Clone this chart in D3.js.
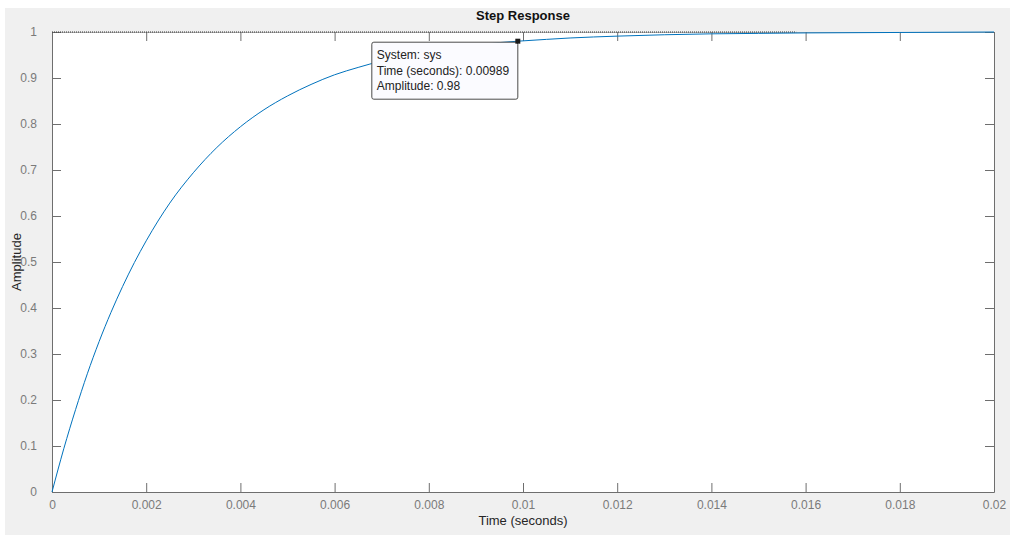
<!DOCTYPE html>
<html>
<head>
<meta charset="utf-8">
<script src="https://cdn.jsdelivr.net/npm/d3@7"></script>
<style>
  body { margin: 0; background: #fff; }
  svg text { font-family: "Liberation Sans", Arial, Helvetica, sans-serif; }
</style>
</head>
<body>
<svg id="chart" width="1010" height="535"></svg>
<script>
// step response samples
var time_s = [0, 0.00025, 0.0005, 0.00075, 0.001, 0.00125, 0.0015, 0.00175, 0.002,
    0.0025, 0.003, 0.0035, 0.004, 0.0045, 0.005, 0.0055, 0.006, 0.0065, 0.007,
    0.0075, 0.008, 0.0085, 0.009, 0.0095, 0.00989, 0.0105, 0.011, 0.012, 0.013,
    0.014, 0.015, 0.016, 0.018, 0.02];
var amplitude = [0, 0.094, 0.179, 0.257, 0.327, 0.390, 0.447, 0.499, 0.546,
    0.628, 0.694, 0.749, 0.794, 0.831, 0.861, 0.886, 0.907, 0.923, 0.937,
    0.948, 0.958, 0.965, 0.971, 0.977, 0.98, 0.984, 0.987, 0.991, 0.994,
    0.996, 0.997, 0.998, 0.999, 1.0];
var x_ticks = [0, 0.002, 0.004, 0.006, 0.008, 0.01, 0.012, 0.014, 0.016, 0.018, 0.02];
var y_ticks = [0, 0.1, 0.2, 0.3, 0.4, 0.5, 0.6, 0.7, 0.8, 0.9, 1];
var steady_state = 1;
var steady_end = 0.0158;
var tip = { "System": "sys", "Time": 0.00989, "Amplitude": 0.98 };

const LEFT = 52, RIGHT = 994, TOP = 32, BOTTOM = 492;
const TICK = 9;
const AXIS_COLOR = "#6e6e6e";
const LABEL_COLOR = "#7a7a7a";

var svg = d3.select("svg#chart");

// figure background
svg.append("rect")
    .attr("x", 5).attr("y", 8)
    .attr("width", 1005).attr("height", 527)
    .attr("fill", "#f0f0f0");

svg.append("rect")
    .attr("x", LEFT).attr("y", TOP)
    .attr("width", RIGHT - LEFT).attr("height", BOTTOM - TOP)
    .attr("fill", "white");

var x = d3.scaleLinear().domain([0, 0.02]).range([LEFT, RIGHT]);
var y = d3.scaleLinear().domain([0, 1]).range([BOTTOM, TOP]);

var fmt = d => d3.format("~g")(+d.toFixed(4));

// bottom axis with labels
var bottom = svg.append("g")
    .attr("transform", "translate(0," + BOTTOM + ")")
    .call(d3.axisBottom(x).tickValues(x_ticks).tickFormat(fmt).tickSizeInner(-TICK).tickSizeOuter(0).tickPadding(8));
// top axis, ticks only
var top_axis = svg.append("g")
    .attr("transform", "translate(0," + TOP + ")")
    .call(d3.axisTop(x).tickValues(x_ticks).tickFormat("").tickSizeInner(-TICK).tickSizeOuter(0));
// left axis with labels
var left = svg.append("g")
    .attr("transform", "translate(" + LEFT + ",0)")
    .call(d3.axisLeft(y).tickValues(y_ticks).tickFormat(fmt).tickSizeInner(-TICK).tickSizeOuter(0).tickPadding(15));
// right axis, ticks only
var right = svg.append("g")
    .attr("transform", "translate(" + RIGHT + ",0)")
    .call(d3.axisRight(y).tickValues(y_ticks).tickFormat("").tickSizeInner(-TICK).tickSizeOuter(0));

[bottom, top_axis, left, right].forEach(function(g) {
    g.select(".domain").attr("stroke", AXIS_COLOR);
    g.selectAll(".tick line").attr("stroke", AXIS_COLOR);
    g.selectAll(".tick text")
        .attr("fill", LABEL_COLOR)
        .style("font-size", "12px");
});
bottom.selectAll(".tick text").attr("dy", "0.71em");

top_axis.select(".domain").attr("stroke", "#b0b0b0");

// steady-state line
svg.append("line")
    .attr("x1", x(0)).attr("x2", x(steady_end))
    .attr("y1", y(steady_state)).attr("y2", y(steady_state))
    .attr("stroke", "#333")
    .attr("stroke-width", 1)
    .attr("stroke-dasharray", "1,1");

// response curve
var line = d3.line()
    .x((d, i) => x(time_s[i]))
    .y(d => y(d))
    .curve(d3.curveMonotoneX);

svg.append("path")
    .datum(amplitude)
    .attr("d", line)
    .attr("fill", "none")
    .attr("stroke", "#0072bd")
    .attr("stroke-width", 1);

// data tip
var box_w = 146, box_h = 57;
var box_x = x(tip.Time) - box_w, box_y = y(tip.Amplitude) + 1;
var tip_g = svg.append("g");
tip_g.append("rect")
    .attr("x", box_x).attr("y", box_y)
    .attr("width", box_w).attr("height", box_h)
    .attr("rx", 2).attr("ry", 2)
    .attr("fill", "#fbfbff")
    .attr("stroke", "#4a4a4a")
    .attr("stroke-width", 1);
var tip_lines = ["System: " + tip.System,
    "Time (seconds): " + tip.Time,
    "Amplitude: " + tip.Amplitude];
tip_g.selectAll("text")
    .data(tip_lines)
    .join("text")
    .attr("x", box_x + 5)
    .attr("y", (d, i) => box_y + 14 + i * 15.5)
    .attr("dominant-baseline", "middle")
    .attr("fill", "#222")
    .style("font-size", "12px")
    .text(d => d);
tip_g.append("rect")
    .attr("x", x(tip.Time) - 2.5).attr("y", y(tip.Amplitude) - 2.5)
    .attr("width", 5).attr("height", 5)
    .attr("fill", "#1a1a1a");

// title and axis labels
svg.append("text")
    .attr("x", (LEFT + RIGHT) / 2)
    .attr("y", 17)
    .attr("text-anchor", "middle")
    .attr("dominant-baseline", "middle")
    .style("font-size", "13px")
    .style("font-weight", "bold")
    .attr("fill", "#111")
    .text("Step Response");

svg.append("text")
    .attr("x", (LEFT + RIGHT) / 2)
    .attr("y", 522)
    .attr("text-anchor", "middle")
    .attr("dominant-baseline", "middle")
    .style("font-size", "13px")
    .attr("fill", "#262626")
    .text("Time (seconds)");

svg.append("text")
    .attr("transform", "translate(18," + (TOP + BOTTOM) / 2 + ") rotate(-90)")
    .attr("text-anchor", "middle")
    .attr("dominant-baseline", "middle")
    .style("font-size", "13px")
    .attr("fill", "#262626")
    .text("Amplitude");
</script>
</body>
</html>
